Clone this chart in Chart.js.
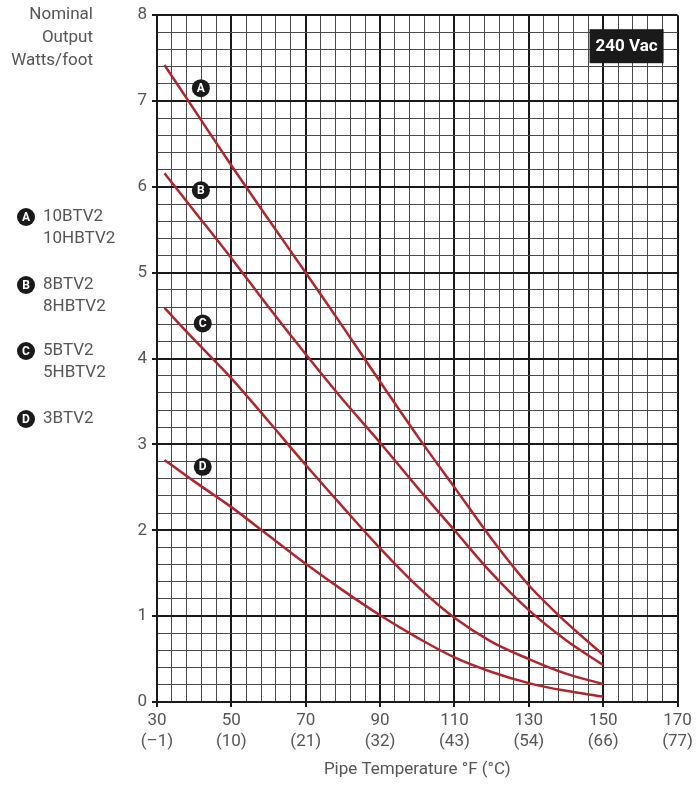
<!DOCTYPE html>
<html>
<head>
<meta charset="utf-8">
<script src="https://cdn.jsdelivr.net/npm/chart.js@4"></script>
<style>
html, body { margin: 0; padding: 0; background: #fff; }
#wrap { width: 697px; height: 787px; position: relative; }
</style>
</head>
<body>
<div id="wrap"><canvas id="chart" width="697" height="787"></canvas></div>
<script>
// values (pipe temp °F -> watts per foot)
const temps = [32, 40, 50, 60, 70, 80, 90, 100, 110, 120, 130, 140, 150];
const wattsA = [7.42, 6.90, 6.25, 5.62, 5.00, 4.37, 3.73, 3.10, 2.50, 1.90, 1.36, 0.93, 0.55];
const wattsB = [6.16, 5.72, 5.17, 4.60, 4.05, 3.52, 3.02, 2.50, 2.00, 1.50, 1.07, 0.72, 0.43];
const wattsC = [4.59, 4.22, 3.77, 3.27, 2.76, 2.27, 1.79, 1.35, 0.98, 0.70, 0.50, 0.33, 0.21];
const wattsD = [2.82, 2.57, 2.27, 1.94, 1.61, 1.30, 1.01, 0.75, 0.52, 0.35, 0.22, 0.13, 0.06];
const seriesNames = ['A', 'B', 'C', 'D'];
const seriesModels = [['10BTV2', '10HBTV2'], ['8BTV2', '8HBTV2'], ['5BTV2', '5HBTV2'], ['3BTV2']];
const xTicksF = [30, 50, 70, 90, 110, 130, 150, 170];
const xTicksC = ['(–1)', '(10)', '(21)', '(32)', '(43)', '(54)', '(66)', '(77)'];
const yTickLabels = [0, 1, 2, 3, 4, 5, 6, 7, 8];

const textColor = '#555';
const curveColor = '#b1252d';
const fontFamily = 'Roboto, "Open Sans", sans-serif';

const isMajorX = v => xTicksF.includes(v);
const isMajorY = v => Math.abs(v - Math.round(v)) < 1e-6;

// little black disc with a white letter
function badge(ctx, cx, cy, letter) {
    ctx.beginPath();
    ctx.arc(cx, cy, 9, 0, Math.PI * 2);
    ctx.fillStyle = '#1a1a1a';
    ctx.fill();
    ctx.fillStyle = '#fff';
    ctx.font = 'bold 12px ' + fontFamily;
    ctx.textAlign = 'center';
    ctx.textBaseline = 'middle';
    ctx.fillText(letter, cx, cy + 0.5);
}

const decorations = {
    id: 'decorations',
    afterDraw(chart) {
        const ctx = chart.ctx;
        const xs = chart.scales.x, ys = chart.scales.y;
        const area = chart.chartArea;
        ctx.save();

        // labels on the curves
        const labelAt = [[41.8, 7.15], [41.8, 5.96], [42.3, 4.41], [42.3, 2.74]];
        labelAt.forEach((p, i) => {
            badge(ctx, xs.getPixelForValue(p[0]), ys.getPixelForValue(p[1]), seriesNames[i]);
        });

        // y axis caption
        ctx.fillStyle = textColor;
        ctx.font = '17px ' + fontFamily;
        ctx.textAlign = 'right';
        ctx.textBaseline = 'middle';
        ['Nominal', 'Output', 'Watts/foot'].forEach((t, i) => ctx.fillText(t, 93, 15 + i * 23));

        // model list on the left
        const rowY = [217, 285, 351, 419];
        seriesModels.forEach((models, i) => {
            badge(ctx, 26, rowY[i], seriesNames[i]);
            ctx.fillStyle = textColor;
            ctx.font = '17px ' + fontFamily;
            ctx.textAlign = 'left';
            ctx.textBaseline = 'middle';
            models.forEach((m, j) => ctx.fillText(m, 43, rowY[i] + j * 22));
        });

        // voltage box
        const bx = area.right - 88, by = area.top + 14;
        ctx.fillStyle = '#1a1a1a';
        ctx.fillRect(bx, by, 74, 34);
        ctx.fillStyle = '#fff';
        ctx.font = 'bold 17px ' + fontFamily;
        ctx.textAlign = 'center';
        ctx.textBaseline = 'middle';
        ctx.fillText('240 Vac', bx + 37, by + 17.5);

        ctx.restore();
    }
};

const seriesList = [wattsA, wattsB, wattsC, wattsD];

const chartData = {
    datasets: seriesList.map((vals, i) => ({
        label: seriesNames[i],
        data: temps.map((t, j) => ({ x: t, y: vals[j] })),
        borderColor: curveColor,
        borderWidth: 2.5,
        pointRadius: 0,
        tension: 0.35,
        fill: false
    }))
};

const ctx = document.getElementById('chart').getContext('2d');
new Chart(ctx, {
    type: 'line',
    data: chartData,
    plugins: [decorations],
    options: {
        responsive: false,
        animation: false,
        layout: { padding: { top: 15, right: 19, bottom: 0, left: 0 } },
        plugins: { legend: { display: false }, tooltip: { enabled: false } },
        scales: {
            x: {
                type: 'linear',
                min: 30,
                max: 170,
                afterFit: s => { s.height = 85; },
                border: { color: '#1a1a1a', width: 2 },
                grid: {
                    color: c => (c.tick && isMajorX(c.tick.value)) ? '#1a1a1a' : '#4a4a4a',
                    lineWidth: c => (c.tick && isMajorX(c.tick.value)) ? 2 : 1,
                    tickColor: c => (c.tick && isMajorX(c.tick.value)) ? '#1a1a1a' : 'rgba(0,0,0,0)',
                    tickLength: 5
                },
                ticks: {
                    stepSize: 4,
                    autoSkip: false,
                    maxRotation: 0,
                    padding: 4,
                    color: textColor,
                    font: { family: fontFamily, size: 17, lineHeight: 1.2 },
                    callback: v => {
                        const i = xTicksF.indexOf(v);
                        return i < 0 ? '' : [String(v), xTicksC[i]];
                    }
                },
                title: {
                    display: true,
                    text: 'Pipe Temperature °F (°C)',
                    color: textColor,
                    font: { family: fontFamily, size: 17 },
                    padding: { top: 0, bottom: 7 }
                }
            },
            y: {
                min: 0,
                max: 8,
                afterFit: s => { s.width = 157; },
                border: { color: '#1a1a1a', width: 2 },
                grid: {
                    color: c => (c.tick && isMajorY(c.tick.value)) ? '#1a1a1a' : '#4a4a4a',
                    lineWidth: c => (c.tick && isMajorY(c.tick.value)) ? 2 : 1,
                    tickColor: c => (c.tick && isMajorY(c.tick.value)) ? '#1a1a1a' : 'rgba(0,0,0,0)',
                    tickLength: 5
                },
                ticks: {
                    stepSize: 0.2,
                    autoSkip: false,
                    padding: 5,
                    color: textColor,
                    font: { family: fontFamily, size: 17 },
                    callback: v => {
                        const n = Math.round(v);
                        return (isMajorY(v) && yTickLabels.includes(n)) ? String(n) : '';
                    }
                }
            }
        }
    }
});
</script>
</body>
</html>
